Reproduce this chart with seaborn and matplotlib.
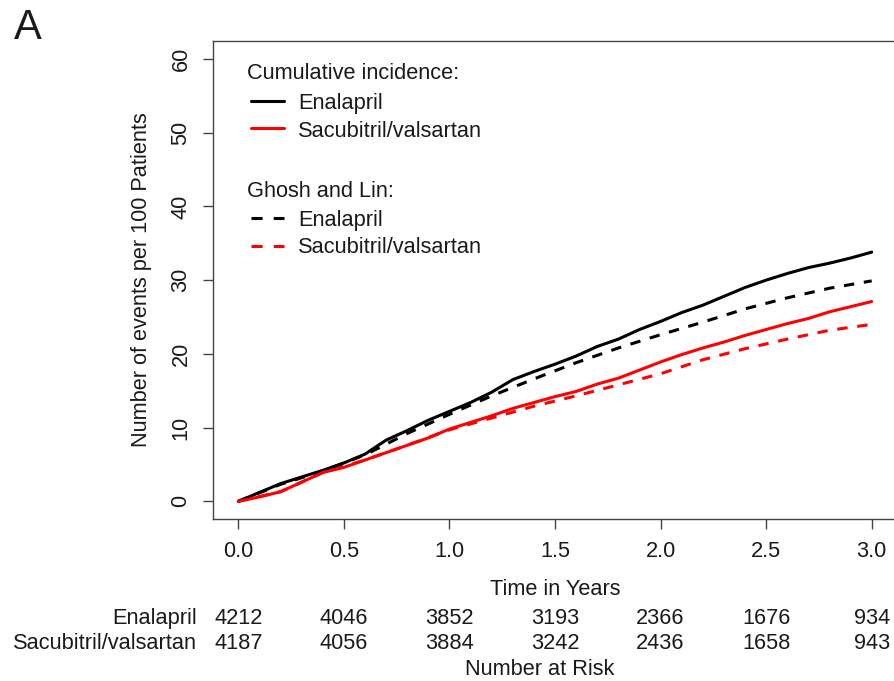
import numpy as np
import pandas as pd
import matplotlib
matplotlib.use("Agg")
import matplotlib.pyplot as plt
from matplotlib.lines import Line2D
import seaborn as sns

# ---- data -------------------------------------------------------------
# Cumulative incidence (events per 100 patients), sampled every 0.1 years
ci_time = [0.0, 0.1, 0.2, 0.3, 0.4, 0.5, 0.6, 0.7, 0.8, 0.9, 1.0,
           1.1, 1.2, 1.3, 1.4, 1.5, 1.6, 1.7, 1.8, 1.9, 2.0,
           2.1, 2.2, 2.3, 2.4, 2.5, 2.6, 2.7, 2.8, 2.9, 3.0]
ci_enalapril = [0.0, 1.2, 2.4, 3.3, 4.2, 5.2, 6.4, 8.3, 9.6, 11.0, 12.2,
                13.4, 14.8, 16.5, 17.6, 18.6, 19.7, 21.0, 22.0, 23.3, 24.4,
                25.6, 26.6, 27.8, 29.0, 30.0, 30.9, 31.7, 32.3, 33.0, 33.8]
ci_sacval = [0.0, 0.6, 1.3, 2.6, 3.9, 4.6, 5.6, 6.6, 7.6, 8.6, 9.8,
             10.7, 11.6, 12.6, 13.4, 14.2, 14.9, 15.9, 16.7, 17.8, 18.9,
             19.9, 20.8, 21.6, 22.5, 23.3, 24.1, 24.8, 25.7, 26.4, 27.1]

# Ghosh and Lin estimates (mean number of recurrent events per 100 patients)
gl_time = [0.0, 0.2, 0.4, 0.6, 0.8, 1.0, 1.2, 1.4, 1.6, 1.8, 2.0,
           2.2, 2.4, 2.6, 2.8, 3.0]
gl_enalapril = [0.0, 2.3, 4.1, 6.3, 9.2, 11.8, 14.3, 16.6, 18.8, 20.8, 22.6,
                24.3, 26.1, 27.6, 28.9, 29.9]
gl_sacval = [0.0, 1.3, 3.9, 5.6, 7.6, 9.7, 11.3, 12.9, 14.3, 15.8, 17.3,
             19.2, 20.7, 22.0, 23.2, 24.0]

# Number at risk table
risk_times = [0.0, 0.5, 1.0, 1.5, 2.0, 2.5, 3.0]
risk_groups = ["Enalapril", "Sacubitril/valsartan"]
risk_enalapril = [4212, 4046, 3852, 3193, 2366, 1676, 934]
risk_sacval = [4187, 4056, 3884, 3242, 2436, 1658, 943]

x_ticks = [0.0, 0.5, 1.0, 1.5, 2.0, 2.5, 3.0]
y_ticks = [0, 10, 20, 30, 40, 50, 60]

# ---- style ------------------------------------------------------------
sns.set_theme(style="ticks")
plt.rcParams["font.family"] = ["Liberation Sans", "DejaVu Sans"]
plt.rcParams["lines.scale_dashes"] = False

W, H = 894, 681
FS = 15.7
TXT = "#1a1a1a"
AX = "#444444"


def fx(px):
    return px / W


def fy(py):
    return 1 - py / H


fig = plt.figure(figsize=(W / 100, H / 100), dpi=100)
fig.patch.set_facecolor("white")
ax = fig.add_axes([fx(213), fy(519), (897 - 213) / W, (519 - 41.3) / H])
ax.set_facecolor("white")

BLACK = "#000000"
RED = "#ff0000"
LW = 2.2
DASH = (0, (7.5, 7.0))
LEG_DASH = (0, (8.0, 8.0))

curves = pd.DataFrame({"t": ci_time, "Enalapril": ci_enalapril,
                       "Sacubitril/valsartan": ci_sacval})
gl = pd.DataFrame({"t": gl_time, "Enalapril": gl_enalapril,
                   "Sacubitril/valsartan": gl_sacval})

sns.lineplot(data=gl, x="t", y="Enalapril", ax=ax, color=BLACK,
             linewidth=LW, linestyle=DASH, legend=False)
sns.lineplot(data=gl, x="t", y="Sacubitril/valsartan", ax=ax, color=RED,
             linewidth=LW, linestyle=DASH, legend=False)
sns.lineplot(data=curves, x="t", y="Enalapril", ax=ax, color=BLACK,
             linewidth=LW, legend=False)
sns.lineplot(data=curves, x="t", y="Sacubitril/valsartan", ax=ax, color=RED,
             linewidth=LW, legend=False)

ax.set_xlim(-0.12, 3.12)
ax.set_ylim(-2.4, 62.4)
ax.set_xticks(x_ticks)
ax.set_xticklabels([f"{v:.1f}" for v in x_ticks])
ax.set_yticks(y_ticks)
ax.set_yticklabels([str(v) for v in y_ticks], rotation=90, va="center")
ax.set_xlabel("")
ax.set_ylabel("")
ax.tick_params(axis="both", length=7.5, width=1.0, color=AX, labelsize=FS,
               labelcolor=TXT, pad=8)
for s in ax.spines.values():
    s.set_color(AX)
    s.set_linewidth(1.0)

# ---- legend -------------------------------------------------------------
def legend_line(y, color, ls):
    fig.add_artist(Line2D([fx(251), fx(284)], [fy(y), fy(y)],
                          transform=fig.transFigure, color=color,
                          linewidth=LW, linestyle=ls))


fig.text(fx(247), fy(79.3), "Cumulative incidence:", fontsize=FS,
         color=TXT, va="baseline", ha="left")
legend_line(101, BLACK, "-")
fig.text(fx(298), fy(109.3), "Enalapril", fontsize=FS, color=TXT,
         va="baseline", ha="left")
legend_line(128.3, RED, "-")
fig.text(fx(298), fy(136.7), "Sacubitril/valsartan", fontsize=FS, color=TXT,
         va="baseline", ha="left")
fig.text(fx(247), fy(196.7), "Ghosh and Lin:", fontsize=FS, color=TXT,
         va="baseline", ha="left")
legend_line(218.3, BLACK, LEG_DASH)
fig.text(fx(298), fy(226), "Enalapril", fontsize=FS, color=TXT,
         va="baseline", ha="left")
legend_line(246, RED, LEG_DASH)
fig.text(fx(298), fy(253.3), "Sacubitril/valsartan", fontsize=FS, color=TXT,
         va="baseline", ha="left")

# ---- labels -------------------------------------------------------------
fig.text(fx(27.5), fy(28), "A", fontsize=30, color=TXT, ha="center",
         va="center")
fig.text(fx(141.5), fy(280), "Number of events per 100 Patients",
         fontsize=FS, color=TXT, rotation=90, ha="center", va="center")
fig.text(fx(555), fy(595), "Time in Years", fontsize=FS, color=TXT,
         ha="center", va="baseline")
fig.text(fx(540), fy(675), "Number at Risk", fontsize=FS, color=TXT,
         ha="center", va="baseline")

# number-at-risk table aligned to the x ticks
row_baselines = [624, 649]
for label, counts, yb in zip(risk_groups, [risk_enalapril, risk_sacval],
                             row_baselines):
    fig.text(fx(197), fy(yb), label, fontsize=FS, color=TXT, ha="right",
             va="baseline")
    for t, n in zip(risk_times, counts):
        xd = ax.transData.transform((t, 0))[0]
        fig.text(xd / (fig.dpi * fig.get_figwidth()), fy(yb), str(n),
                 fontsize=FS, color=TXT, ha="center", va="baseline")

fig.savefig("out.png", dpi=100, facecolor="white")
